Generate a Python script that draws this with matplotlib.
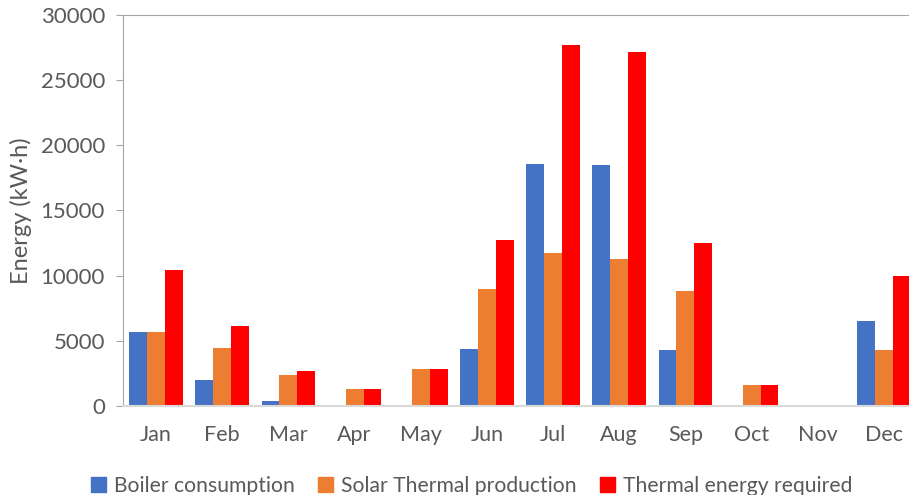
import numpy as np
import matplotlib.pyplot as plt
from matplotlib.patches import Patch

plt.rcParams['font.family'] = ['Lato', 'DejaVu Sans']

months = ['Jan', 'Feb', 'Mar', 'Apr', 'May', 'Jun', 'Jul', 'Aug', 'Sep', 'Oct', 'Nov', 'Dec']
boiler = [5640, 2000, 390, 0, 0, 4380, 18540, 18460, 4310, 0, 0, 6540]
solar = [5640, 4460, 2390, 1310, 2850, 9000, 11770, 11300, 8850, 1620, 30, 4310]
required = [10460, 6150, 2690, 1310, 2850, 12720, 27690, 27150, 12540, 1620, 30, 10000]

series = [('Boiler consumption', boiler, '#4472C4'),
          ('Solar Thermal production', solar, '#ED7D31'),
          ('Thermal energy required', required, '#FF0000')]

txt = '#595959'
fig = plt.figure(figsize=(9.09, 4.95), dpi=100)
ax = fig.add_axes([0.1353, 0.1798, 0.8735, 0.7899])

x = np.arange(len(months))
w = 0.27
for i, (name, vals, col) in enumerate(series):
    ax.bar(x + (i - 1) * w, vals, width=w, color=col, label=name)

ax.set_xlim(-0.5, len(months) - 0.5)
ax.set_ylim(0, 30000)
ax.set_yticks(np.arange(0, 30001, 5000))
ax.set_xticks(x)
ax.set_xticklabels(months)

ax.spines['right'].set_visible(False)
ax.spines['left'].set_color('#A6A6A6')
ax.spines['top'].set_color('#A6A6A6')
ax.spines['bottom'].set_color('#D9D9D9')
ax.spines['bottom'].set_linewidth(1.5)
ax.tick_params(axis='y', length=5, color='#A6A6A6', labelcolor=txt, labelsize=16, pad=8)
ax.tick_params(axis='x', length=0, labelcolor=txt, labelsize=15.5, pad=14)
ax.set_ylabel('Energy (kW·h)', color=txt, fontsize=17, labelpad=6)

handles = [Patch(color=c) for _, _, c in series]
fig.legend(handles, [n for n, _, _ in series], loc='center', bbox_to_anchor=(0.519, 0.018),
           ncol=3, frameon=False, fontsize=15.2, labelcolor=txt, handlelength=0.7,
           handleheight=0.7, handletextpad=0.4, columnspacing=1.1)

fig.savefig('out.png', dpi=100)
